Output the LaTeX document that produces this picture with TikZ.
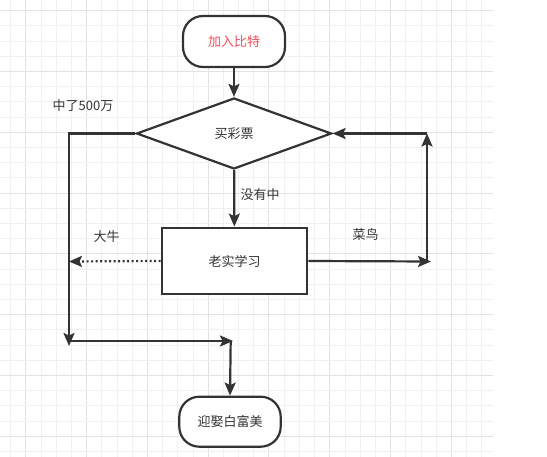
\documentclass[tikz,border=0pt]{standalone}
\usepackage{fontspec}
\newfontfamily\cjk{Noto Sans CJK SC}
\usetikzlibrary{arrows.meta,shapes.geometric}
\definecolor{ink}{HTML}{333333}
\definecolor{gridminor}{HTML}{F0F0F0}
\definecolor{gridmajor}{HTML}{E2E2E2}
\definecolor{startred}{HTML}{F0505A}
\tikzset{
  lbl/.style={font=\cjk\fontsize{13}{13}\selectfont, text=ink, inner sep=0},
  stadium/.style={draw=ink, line width=2.2pt, rounded corners=20pt, fill=white, inner sep=0, lbl},
  procbox/.style={draw=ink, line width=2.2pt, fill=white, inner sep=0, lbl},
  decision/.style={draw=ink, line width=2.2pt, fill=white, diamond, inner sep=0, lbl},
  arr/.style={draw=ink, line width=2.2pt, -{Stealth[length=13pt,width=11pt,inset=2.5pt]}},
  dotarr/.style={arr, dash pattern=on 2pt off 2.5pt},
}
\begin{document}
\begin{tikzpicture}[x=1pt,y=-1pt]
\useasboundingbox (0,0) rectangle (547,457);
\fill[white] (0,0) rectangle (547,457);
% grid
\foreach \k in {0,...,31} {
  \pgfmathsetmacro\xx{10.5+15.2*\k}
  \pgfmathtruncatemacro\mm{mod(\k,4)}
  \ifnum\mm=1 \draw[gridmajor, line width=0.9pt] (\xx,0) -- (\xx,457);
  \else \draw[gridminor, line width=0.8pt] (\xx,0) -- (\xx,457); \fi
}
\foreach \k in {0,...,29} {
  \pgfmathsetmacro\yy{10.7+15.2*\k}
  \pgfmathtruncatemacro\mm{mod(\k,4)}
  \ifnum\mm=0 \draw[gridmajor, line width=0.9pt] (0,\yy) -- (493,\yy);
  \else \draw[gridminor, line width=0.8pt] (0,\yy) -- (493,\yy); \fi
}
% nodes
\node[stadium, minimum width=102pt, minimum height=51pt, text=startred] (start) at (234,41.5) {加入比特};
\node[decision, minimum width=195pt, minimum height=71pt] (dia) at (234,133.5) {买彩票};
\node[procbox, minimum width=145.6pt, minimum height=66.6pt] (study) at (234.5,261) {老实学习};
\node[stadium, minimum width=101.4pt, minimum height=50pt] (finish) at (230,421.7) {迎娶白富美};
% junction coordinates
\coordinate (lt) at (69,133.5);
\coordinate (lb) at (69,346);
\coordinate (lh) at (69,341);
\coordinate (hm) at (233,341);
\coordinate (vm) at (230.7,341);
\coordinate (dl) at (69,261.5);
\coordinate (rr) at (431,261.5);
\coordinate (rb) at (427,261.5);
\coordinate (rt) at (427,133.5);
% connectors
\draw[arr] (start) -- (dia);
\draw[arr] (dia) -- (study);
\draw[arr] (dia.west) -- (lt) -- (lb);
\draw[arr] (lh) -- (hm);
\draw[arr] (vm) -- (finish.north);
\draw[dotarr] (study.west) -- (dl);
\draw[arr] (study.east) -- (rr);
\draw[arr] (rb) -- (rt);
\draw[arr] (rt) -- (dia.east);
% labels
\node[lbl] (l500) at (83,105.7) {中了500万};
\node[lbl] (lno) at (260,195) {没有中};
\node[lbl] (lbig) at (106.5,236.7) {大牛};
\node[lbl] (lnew) at (365.5,235) {菜鸟};
\end{tikzpicture}
\end{document}
